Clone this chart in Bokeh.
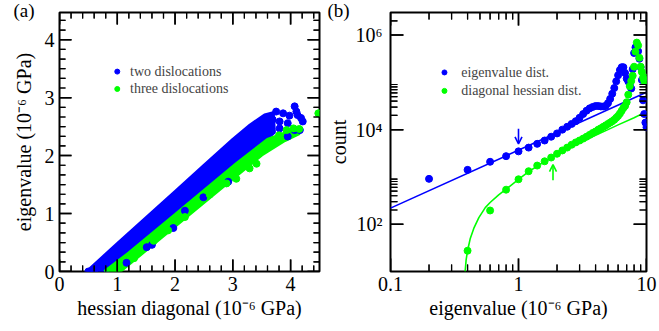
import math
from bokeh.plotting import figure
from bokeh.layouts import row
from bokeh.models import (FixedTicker, CustomJSTickFormatter, Label, Arrow, OpenHead, Range1d,
                          ColumnDataSource)
from bokeh.embed import file_html
from bokeh.resources import INLINE

# ---------------- data: panel (a) ----------------
# dense band outlines (hessian diagonal, eigenvalue)
two_band_x = [0.47, 1.0, 1.5, 2.0, 2.5, 3.0, 3.3, 3.55, 3.70, 3.72, 3.60, 3.06, 2.0, 1.2, 0.82]
two_band_y = [0.00, 0.48, 0.93, 1.38, 1.83, 2.28, 2.53, 2.70, 2.74, 2.40, 2.30, 1.86, 0.98, 0.32, 0.00]
three_band_x = [0.78, 1.2, 2.0, 3.06, 3.6, 3.93, 4.15, 4.15, 3.9, 3.5, 3.06, 2.23, 1.6, 1.05]
three_band_y = [0.00, 0.32, 0.98, 1.86, 2.28, 2.40, 2.46, 2.38, 2.26, 2.01, 1.65, 0.97, 0.45, 0.00]
# scattered points outside the dense bands
two_pts_x = [3.75, 3.87, 4.07, 4.10, 4.18, 4.21, 3.81, 3.95, 4.16, 3.69, 3.64, 3.58, 3.95, 3.98,
             3.55, 3.81, 4.07, 4.12, 2.92, 2.49, 2.17, 1.97, 1.60, 1.51, 1.16, 0.50, 0.60]
two_pts_y = [2.76, 2.73, 2.85, 2.76, 2.65, 2.59, 2.59, 2.56, 2.44, 2.62, 2.44, 2.56, 2.33, 2.69,
             2.39, 2.47, 2.44, 2.70, 1.55, 1.28, 1.05, 0.75, 0.46, 0.42, 0.15, 0.00, 0.02]
three_pts_x = [1.29, 1.63, 1.88, 2.17, 2.40, 2.60, 2.89, 3.06, 3.29, 3.41, 3.80, 3.93, 4.05, 4.15, 4.48]
three_pts_y = [0.23, 0.53, 0.71, 0.94, 1.18, 1.33, 1.52, 1.60, 1.78, 1.86, 2.35, 2.44, 2.47, 2.46, 2.73]
a_major_ticks = [0, 1, 2, 3, 4]

# ---------------- data: panel (b) ----------------
eig_x = [0.2, 0.4, 0.6, 0.8, 1.0, 1.2, 1.4, 1.6, 1.8, 2.0, 2.2, 2.4, 2.6, 2.8, 3.0, 3.2, 3.4,
         3.6, 3.8, 4.0, 4.2, 4.4, 4.6, 4.8, 5.0, 5.2, 5.4, 5.6, 5.8, 6.0, 6.2, 6.4, 6.6, 6.8,
         7.0, 7.2, 7.4, 7.6, 7.8, 8.0, 8.2, 8.4, 8.6, 8.8, 9.0, 9.2, 9.4, 9.6, 9.8, 10.0]
eig_count = [910, 1410, 2090, 2750, 3470, 4170, 5010, 5890, 7080, 8320, 10000, 11500, 13200,
             15100, 17800, 21400, 25100, 28200, 30200, 31600, 31600, 30900, 30900, 31600,
             36300, 44700, 57500, 75900, 105000, 141000, 182000, 209000, 209000, 158000,
             120000, 105000, 89000, 74000, 190000, 417000, 550000, 525000, 457000, 316000,
             209000, 112000, 41700, 21400, 14100, 11200]
diag_x = [0.4, 0.6, 0.8, 1.0, 1.2, 1.4, 1.6, 1.8, 2.0, 2.2, 2.4, 2.6, 2.8, 3.0, 3.2, 3.4,
          3.6, 3.8, 4.0, 4.2, 4.4, 4.6, 4.8, 5.0, 5.2, 5.4, 5.6, 5.8, 6.0, 6.2, 6.4, 6.6, 6.8,
          7.0, 7.2, 7.4, 7.6, 7.8, 8.0, 8.2, 8.4, 8.6, 8.8, 9.0, 9.2, 9.4, 9.6, 9.8, 10.0]
diag_count = [27.5, 195, 537, 891, 1320, 1740, 2140, 2570, 3090, 3630, 4170, 4790, 5370,
              5890, 6460, 7080, 7760, 8510, 9120, 10000, 10700, 11500, 12300, 13200, 14100,
              15100, 16200, 17800, 19500, 21900, 25100, 28800, 31600, 38000, 55000, 83200,
              107000, 138000, 214000, 447000, 692000, 603000, 331000, 214000, 166000,
              126000, 107000, 112000, 126000]
# fitted curves
eig_fit_x = [0.1, 10.0]
eig_fit_count = [219, 61700]
diag_fit_x = [0.383, 0.39, 0.40, 0.42, 0.45, 0.49, 0.55, 0.6, 0.7, 0.8, 1.0, 1.2, 1.5, 2.0,
              2.5, 3.0, 4.0, 5.0, 6.0, 8.0, 10.0]
diag_fit_count = [10, 17.8, 27.5, 50, 85, 138, 224, 288, 417, 550, 891, 1290, 1900, 2950,
                  4070, 5250, 7590, 10000, 12600, 17800, 24000]
# arrows marking crossover points
eig_arrow = dict(x=1.0, y_from=10500, y_to=5000)
diag_arrow = dict(x=1.86, y_from=850, y_to=1820)
b_x_major = [0.1, 1, 10]
b_x_minor = [0.2, 0.3, 0.4, 0.5, 0.6, 0.7, 0.8, 0.9, 2, 3, 4, 5, 6, 7, 8, 9]
b_y_major = [1e2, 1e4, 1e6]
b_y_minor = [2e2, 3e2, 4e2, 5e2, 6e2, 7e2, 8e2, 9e2, 2e4, 3e4, 4e4, 5e4, 6e4, 7e4, 8e4, 9e4, 2e6]

# ---------------- style ----------------
FONT = "Liberation Serif"
BLUE = "#0000ff"
GREEN = "#00ff00"


def style_axis(ax, label_standoff, axis_standoff):
    ax.axis_line_color = None
    ax.major_tick_in = 0
    ax.major_tick_out = 0
    ax.minor_tick_in = 0
    ax.minor_tick_out = 0
    ax.major_label_text_font = FONT
    ax.major_label_text_font_size = "20px"
    ax.major_label_text_color = "black"
    ax.axis_label_text_font = FONT
    ax.axis_label_text_font_size = "20px"
    ax.axis_label_text_font_style = "normal"
    ax.axis_label_text_color = "black"
    ax.major_label_standoff = label_standoff
    ax.axis_label_standoff = axis_standoff


def offset(lo, hi, px, npx, log):
    """Data value lying px pixels from the lo end of a range drawn over npx pixels."""
    if log:
        a, b = math.log10(lo), math.log10(hi)
        return 10 ** (a + px * (b - a) / npx)
    return lo + px * (hi - lo) / npx


def inward_ticks(p, xs, ys, xr, yr, fw, fh, log, length, width):
    """Tick marks on all four frame sides, pointing inwards (clipped at the frame)."""
    (x0, x1), (y0, y1) = xr, yr
    sx0, sx1, sy0, sy1 = [], [], [], []
    for t in xs:
        sx0 += [t, t]
        sx1 += [t, t]
        sy0 += [offset(y0, y1, -2, fh, log), offset(y0, y1, fh - length, fh, log)]
        sy1 += [offset(y0, y1, length, fh, log), offset(y0, y1, fh + 2, fh, log)]
    for t in ys:
        sx0 += [offset(x0, x1, -2, fw, log), offset(x0, x1, fw - length, fw, log)]
        sx1 += [offset(x0, x1, length, fw, log), offset(x0, x1, fw + 2, fw, log)]
        sy0 += [t, t]
        sy1 += [t, t]
    p.multi_line(xs=[[a, b] for a, b in zip(sx0, sx1)], ys=[[a, b] for a, b in zip(sy0, sy1)],
                 line_color="black", line_width=width)
    src = ColumnDataSource(dict(x0=sx0, x1=sx1, y0=sy0, y1=sy1))
    p.add_layout(Arrow(x_start="x0", y_start="y0", x_end="x1", y_end="y1", source=src,
                       end=None, line_color="black", line_width=width))


def panel_title(p, text, off):
    p.title.text = text
    p.title.align = "left"
    p.title.offset = off
    p.title.standoff = -16
    p.title.text_font = FONT
    p.title.text_font_size = "19px"
    p.title.text_font_style = "normal"
    p.title.text_color = "black"


# ---------------- panel (a) ----------------
AX, AY = (0, 4.5), (0, 4.47)
A_W, A_H, A_L, A_R, A_T, A_B = 324, 331, 59, 5, 12, 60
pa = figure(width=A_W, height=A_H, x_range=Range1d(*AX), y_range=Range1d(*AY),
            output_backend="svg", toolbar_location=None,
            min_border_left=A_L, min_border_right=A_R, min_border_top=A_T, min_border_bottom=A_B)
pa.grid.visible = False
pa.outline_line_color = "black"
pa.outline_line_width = 2
pa.xaxis.ticker = FixedTicker(ticks=a_major_ticks)
pa.yaxis.ticker = FixedTicker(ticks=a_major_ticks)
pa.xaxis.axis_label = "hessian diagonal (10⁻⁶ GPa)"
pa.yaxis.axis_label = "eigenvalue (10⁻⁶ GPa)"
style_axis(pa.xaxis[0], 5, 3)
style_axis(pa.yaxis[0], 5, 7)
panel_title(pa, "(a)", -46)

pa.patch(two_band_x, two_band_y, fill_color=BLUE, line_color=BLUE, line_width=3)
pa.patch(three_band_x, three_band_y, fill_color=GREEN, line_color=GREEN, line_width=3)
pa.scatter(two_pts_x, two_pts_y, size=7, color=BLUE)
pa.scatter(three_pts_x, three_pts_y, size=7, color=GREEN)

# legend (a)
LEG_A = dict(dot_x=1.0, text_x=1.22, y1=3.45, y2=3.15)
pa.scatter([LEG_A["dot_x"]], [LEG_A["y1"]], size=5, color=BLUE)
pa.scatter([LEG_A["dot_x"]], [LEG_A["y2"]], size=5, color=GREEN)
pa.add_layout(Label(x=LEG_A["text_x"], y=LEG_A["y1"], text="two dislocations", text_font=FONT,
                    text_font_size="14px", text_baseline="middle"))
pa.add_layout(Label(x=LEG_A["text_x"], y=LEG_A["y2"], text="three dislocations", text_font=FONT,
                    text_font_size="14px", text_baseline="middle"))

a_minor_x = [t + k / 5 for t in a_major_ticks for k in range(1, 5) if t + k / 5 < AX[1]]
a_minor_y = [t + k / 6 for t in a_major_ticks for k in range(1, 6) if t + k / 6 < AY[1]]
a_fw, a_fh = A_W - A_L - A_R, A_H - A_T - A_B
inward_ticks(pa, a_major_ticks, a_major_ticks, AX, AY, a_fw, a_fh, False, 12, 1.5)
inward_ticks(pa, a_minor_x, a_minor_y, AX, AY, a_fw, a_fh, False, 6, 1.2)

# ---------------- panel (b) ----------------
BX, BY = (0.1, 10), (10, 3.0e6)
B_W, B_H, B_L, B_R, B_T, B_B = 335, 331, 64, 13, 12, 60
pb = figure(width=B_W, height=B_H, x_axis_type="log", y_axis_type="log",
            x_range=Range1d(*BX), y_range=Range1d(*BY),
            output_backend="svg", toolbar_location=None,
            min_border_left=B_L, min_border_right=B_R, min_border_top=B_T, min_border_bottom=B_B)
pb.grid.visible = False
pb.outline_line_color = "black"
pb.outline_line_width = 2
pb.xaxis.ticker = FixedTicker(ticks=b_x_major)
pb.yaxis.ticker = FixedTicker(ticks=b_y_major)
pb.xaxis.formatter = CustomJSTickFormatter(code="return tick < 1 ? tick.toFixed(1) : tick.toFixed(0);")
pb.yaxis.formatter = CustomJSTickFormatter(
    code="const e = Math.round(Math.log10(tick)); const s = {2: '\u00b2', 4: '\u2074', 6: '\u2076'}; return '10' + s[e];")
pb.xaxis.axis_label = "eigenvalue (10⁻⁶ GPa)"
pb.yaxis.axis_label = "count"
style_axis(pb.xaxis[0], 5, 3)
style_axis(pb.yaxis[0], 8, 3)
panel_title(pb, "(b)", -63)

pb.line(eig_fit_x, eig_fit_count, line_color=BLUE, line_width=1.6)
pb.line(diag_fit_x, diag_fit_count, line_color=GREEN, line_width=1.6)
pb.scatter(eig_x, eig_count, size=7, color=BLUE)
pb.scatter(diag_x, diag_count, size=7, color=GREEN)

pb.add_layout(Arrow(end=OpenHead(size=7, line_color=BLUE, line_width=1.6),
                    x_start=eig_arrow["x"], y_start=eig_arrow["y_from"],
                    x_end=eig_arrow["x"], y_end=eig_arrow["y_to"],
                    line_color=BLUE, line_width=1.6))
pb.add_layout(Arrow(end=OpenHead(size=7, line_color=GREEN, line_width=1.6),
                    x_start=diag_arrow["x"], y_start=diag_arrow["y_from"],
                    x_end=diag_arrow["x"], y_end=diag_arrow["y_to"],
                    line_color=GREEN, line_width=1.6))

# legend (b)
LEG_B = dict(dot_x=0.264, text_x=0.357, y1=162000, y2=66000)
pb.scatter([LEG_B["dot_x"]], [LEG_B["y1"]], size=5, color=BLUE)
pb.scatter([LEG_B["dot_x"]], [LEG_B["y2"]], size=5, color=GREEN)
pb.add_layout(Label(x=LEG_B["text_x"], y=LEG_B["y1"], text="eigenvalue dist.", text_font=FONT,
                    text_font_size="14px", text_baseline="middle"))
pb.add_layout(Label(x=LEG_B["text_x"], y=LEG_B["y2"], text="diagonal hessian dist.", text_font=FONT,
                    text_font_size="14px", text_baseline="middle"))

b_fw, b_fh = B_W - B_L - B_R, B_H - B_T - B_B
inward_ticks(pb, b_x_major, b_y_major, BX, BY, b_fw, b_fh, True, 13, 1.5)
inward_ticks(pb, b_x_minor, b_y_minor, BX, BY, b_fw, b_fh, True, 7, 1.2)

layout = row(pa, pb)
open("out.html", "w").write(file_html(layout, INLINE))
